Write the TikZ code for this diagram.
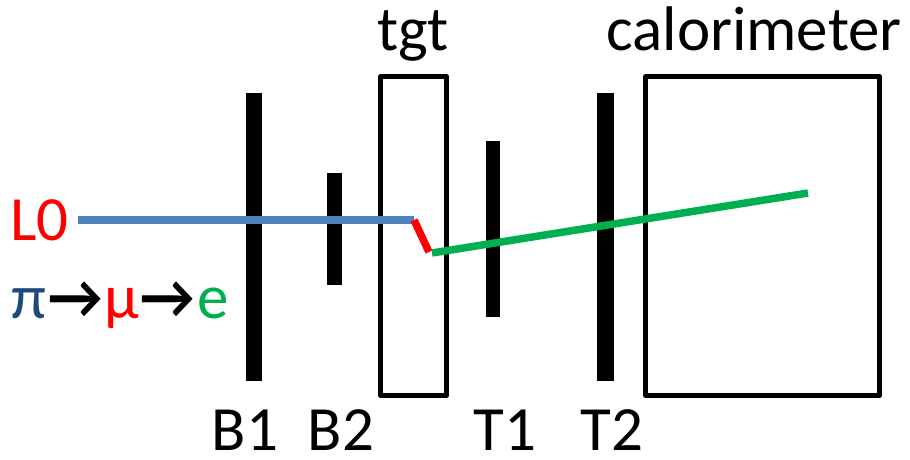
\documentclass[tikz,border=0pt]{standalone}
\usepackage{fontspec}
\setmainfont{Carlito}
\definecolor{beamblue}{HTML}{4F81BD}
\definecolor{pidark}{HTML}{1F497D}
\definecolor{egreen}{HTML}{00B050}
\newcommand{\decayarrow}{\kern2pt\scalebox{0.95}[1]{\bfseries →}\kern2pt}
\begin{document}
\begin{tikzpicture}[x=1pt,y=-1pt,
  bar/.style={draw=none,fill=black,inner sep=0pt,minimum width=#1},
  frame/.style={draw=black,line width=5pt,line join=round,inner sep=0pt},
  lbl/.style={font=\fontsize{63}{66}\selectfont,anchor=base,inner sep=0pt,text depth=0pt},
  track/.style={line width=7.5pt}]
\useasboundingbox (0,0) rectangle (910,459);
% counters
\node[bar=16pt,minimum height=288pt] (B1) at (254,237) {};
\node[bar=15pt,minimum height=112pt] (B2) at (334,229) {};
\node[bar=14pt,minimum height=176pt] (T1) at (493,229) {};
\node[bar=17pt,minimum height=288pt] (T2) at (605.5,237) {};
% target and calorimeter
\node[frame,minimum width=66pt,minimum height=319pt] (tgt) at (413.5,236) {};
\node[frame,minimum width=234pt,minimum height=319pt] (cal) at (762.5,236) {};
% labels
\node[lbl] (lB1) at (245,450) {B1};
\node[lbl] (lB2) at (341,450) {B2};
\node[lbl] (lT1) at (505,450) {T1};
\node[lbl] (lT2) at (612,450) {T2};
\node[lbl] (ltgt) at (413,50) {tgt};
\node[lbl] (lcal) at (754,50) {calorimeter};
\node[lbl,anchor=base west,text=red] (lL0) at (10,240) {L0};
\node[lbl,anchor=base west] (ldecay) at (11,318) {\textcolor{pidark}{π}\decayarrow\textcolor{red}{μ}\decayarrow\textcolor{egreen}{e}};
% tracks
\coordinate (pstart) at (78,220);
\coordinate (pstop) at (414,220);
\coordinate (mstop) at (429,252);
\coordinate (estart) at (432,253);
\coordinate (eend) at (808,193);
\draw[track,beamblue] (pstart) -- (pstop);
\draw[track,red] (pstop) -- (mstop);
\draw[track,egreen] (estart) -- (eend);
\end{tikzpicture}
\end{document}
